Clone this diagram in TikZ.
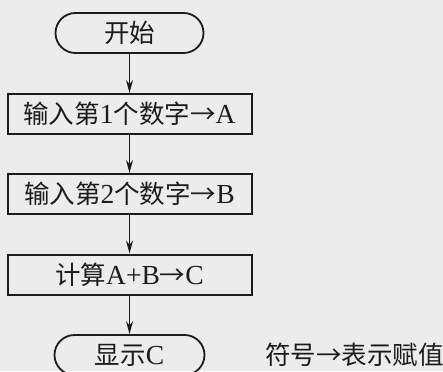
\documentclass[tikz,border=0pt]{standalone}
\usepackage{fontspec}
\setmainfont{Liberation Serif}[Scale=1.08]
\newfontfamily\cjk{Noto Sans CJK SC}
\usetikzlibrary{arrows.meta}
\definecolor{paper}{RGB}{236,236,236}
\definecolor{ink}{RGB}{28,28,28}
\newcommand{\zh}[1]{{\cjk #1}}
\tikzset{
  every node/.style={font=\fontsize{25.5}{30}\selectfont, text=ink},
  term/.style={draw=ink, line width=1.8pt, rounded corners=20pt, minimum width=148pt, minimum height=40pt, inner sep=0pt},
  procbox/.style={draw=ink, line width=2pt, minimum width=244pt, minimum height=40pt, inner sep=0pt},
  flow/.style={draw=ink, line width=1.2pt, -{Stealth[length=13pt,width=7pt]}}
}
\begin{document}
\begin{tikzpicture}
\clip (0,0) rectangle (443pt,-371pt);
\fill[paper] (0,0) rectangle (443pt,-371pt);
\node[term] (start) at (129.5pt,-33pt) {\zh{开始}};
\node[procbox] (in1) at (129.5pt,-114pt) {\zh{输入第}1\zh{个数字→}A};
\node[procbox] (in2) at (129.5pt,-194pt) {\zh{输入第}2\zh{个数字→}B};
\node[procbox] (calc) at (129.5pt,-274.5pt) {\zh{计算}A+B\zh{→}C};
\node[term, minimum width=150pt] (show) at (129.5pt,-355pt) {\zh{显示}C};
\node[anchor=west, inner sep=0pt] (note) at (265pt,-355pt) {\zh{符号→表示赋值}};
\draw[flow] (start) -- (in1);
\draw[flow] (in1) -- (in2);
\draw[flow] (in2) -- (calc);
\draw[flow] (calc) -- (show);
\end{tikzpicture}
\end{document}
